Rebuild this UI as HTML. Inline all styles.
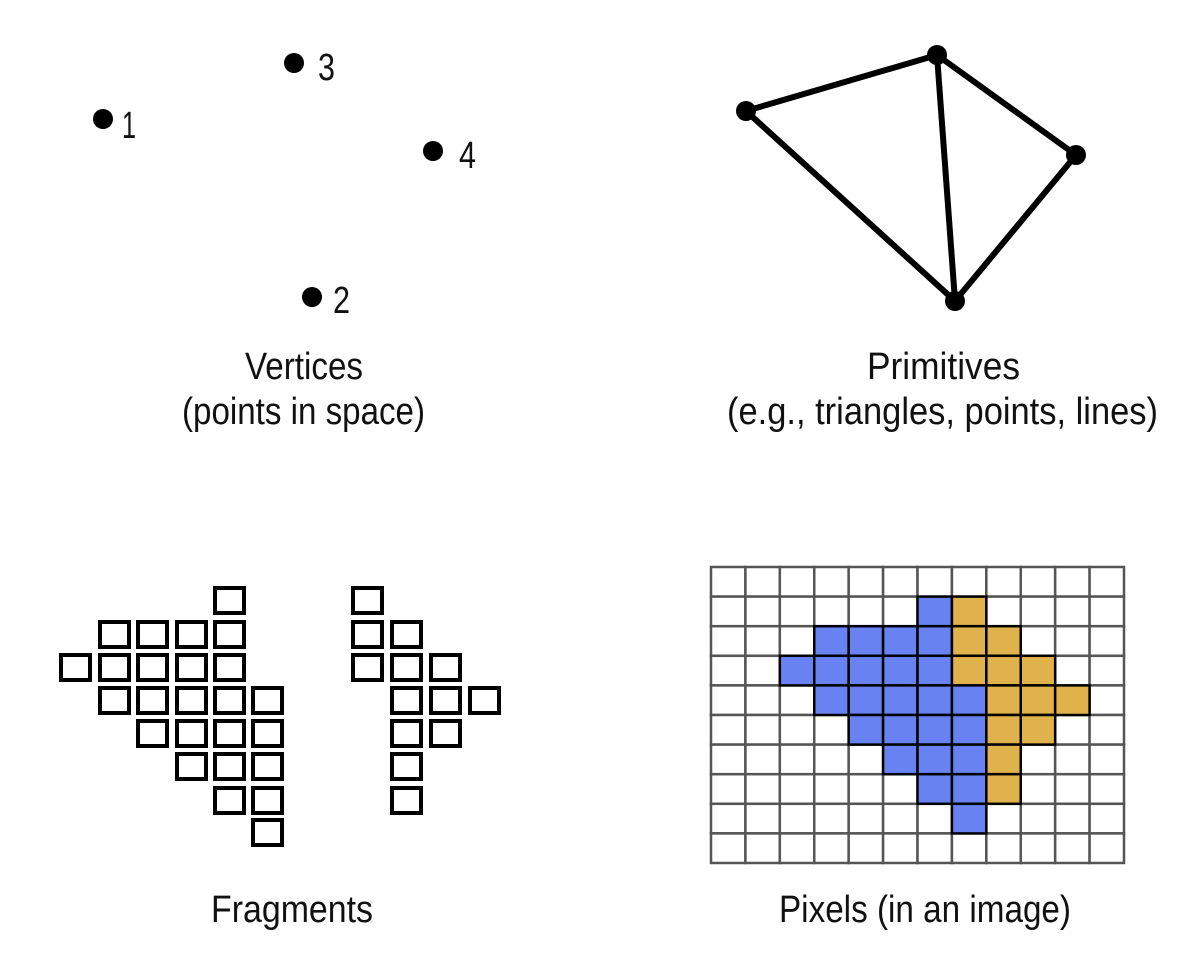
<!DOCTYPE html>
<html><head><meta charset="utf-8"><style>
html,body{margin:0;padding:0;background:#fff;}
svg{display:block;}
text{font-family:"Liberation Sans",sans-serif;fill:#111;font-size:38px;}
</style></head><body>
<svg width="1192" height="958" viewBox="0 0 1192 958" xmlns="http://www.w3.org/2000/svg">
<circle cx="103" cy="119" r="10" fill="#000"/>
<circle cx="294" cy="63" r="10" fill="#000"/>
<circle cx="433" cy="151" r="10" fill="#000"/>
<circle cx="312" cy="297" r="10" fill="#000"/>
<text x="122" y="138" textLength="14" lengthAdjust="spacingAndGlyphs">1</text>
<text x="318" y="80" textLength="17" lengthAdjust="spacingAndGlyphs">3</text>
<text x="459" y="168" textLength="17" lengthAdjust="spacingAndGlyphs">4</text>
<text x="333" y="313" textLength="17" lengthAdjust="spacingAndGlyphs">2</text>
<text x="245" y="379" textLength="118" lengthAdjust="spacingAndGlyphs">Vertices</text>
<text x="182" y="424" textLength="243" lengthAdjust="spacingAndGlyphs">(points in space)</text>
<g stroke="#000" stroke-width="6" stroke-linecap="round" fill="none">
<polygon points="746,111 937,55 1076,155 955,301"/>
<line x1="937" y1="55" x2="955" y2="301"/>
</g>
<circle cx="746" cy="111" r="10" fill="#000"/>
<circle cx="937" cy="55" r="10" fill="#000"/>
<circle cx="1076" cy="155" r="10" fill="#000"/>
<circle cx="955" cy="301" r="10" fill="#000"/>
<text x="867" y="379" textLength="153" lengthAdjust="spacingAndGlyphs">Primitives</text>
<text x="727" y="424" textLength="431" lengthAdjust="spacingAndGlyphs">(e.g., triangles, points, lines)</text>
<g stroke="#000" stroke-width="4" fill="none" id="frag"></g>
<text x="211" y="922" textLength="162" lengthAdjust="spacingAndGlyphs">Fragments</text>
<g id="pix"></g>
<text x="779" y="922" textLength="292" lengthAdjust="spacingAndGlyphs">Pixels (in an image)</text>
</svg>
<script>
var NS="http://www.w3.org/2000/svg";
function r(p,x,y,w,h,a){var e=document.createElementNS(NS,"rect");e.setAttribute("x",x);e.setAttribute("y",y);e.setAttribute("width",w);e.setAttribute("height",h);for(var k in a)e.setAttribute(k,a[k]);p.appendChild(e);}
var f=document.getElementById("frag");
var rows=[586,620,653,686,719,752,786,818];
var L=[59,98,136,175,213,251];
var lg=[[4],[1,2,3,4],[0,1,2,3,4],[1,2,3,4,5],[2,3,4,5],[3,4,5],[4,5],[5]];
lg.forEach(function(cs,i){cs.forEach(function(c){r(f,L[c]+2,rows[i]+2,29,25,{});});});
var R=[351,390,429,468];
var rg=[[0],[0,1],[0,1,2],[1,2,3],[1,2],[1],[1]];
rg.forEach(function(cs,i){cs.forEach(function(c){r(f,R[c]+2,rows[i]+2,29,25,{});});});
var p=document.getElementById("pix");
var x0=711,y0=567,cw=(1124-711)/12,ch=(863-567)/10;
var blue=[[],[6],[3,4,5,6],[2,3,4,5,6],[3,4,5,6,7],[4,5,6,7],[5,6,7],[6,7],[7],[]];
var org=[[],[7],[7,8],[7,8,9],[8,9,10],[8,9],[8],[8],[],[]];
for(var j=0;j<10;j++)for(var i=0;i<12;i++){
if(blue[j].indexOf(i)<0&&org[j].indexOf(i)<0)r(p,x0+i*cw,y0+j*ch,cw,ch,{fill:"#fff",stroke:"#555","stroke-width":"2.5"});}
for(var j=0;j<10;j++)for(var i=0;i<12;i++){
var fill=null;
if(blue[j].indexOf(i)>=0)fill="#6882f2";
if(org[j].indexOf(i)>=0)fill="#e0b24c";
if(fill)r(p,x0+i*cw,y0+j*ch,cw,ch,{fill:fill,stroke:"#000","stroke-width":"2.5"});}
</script>
</body></html>
